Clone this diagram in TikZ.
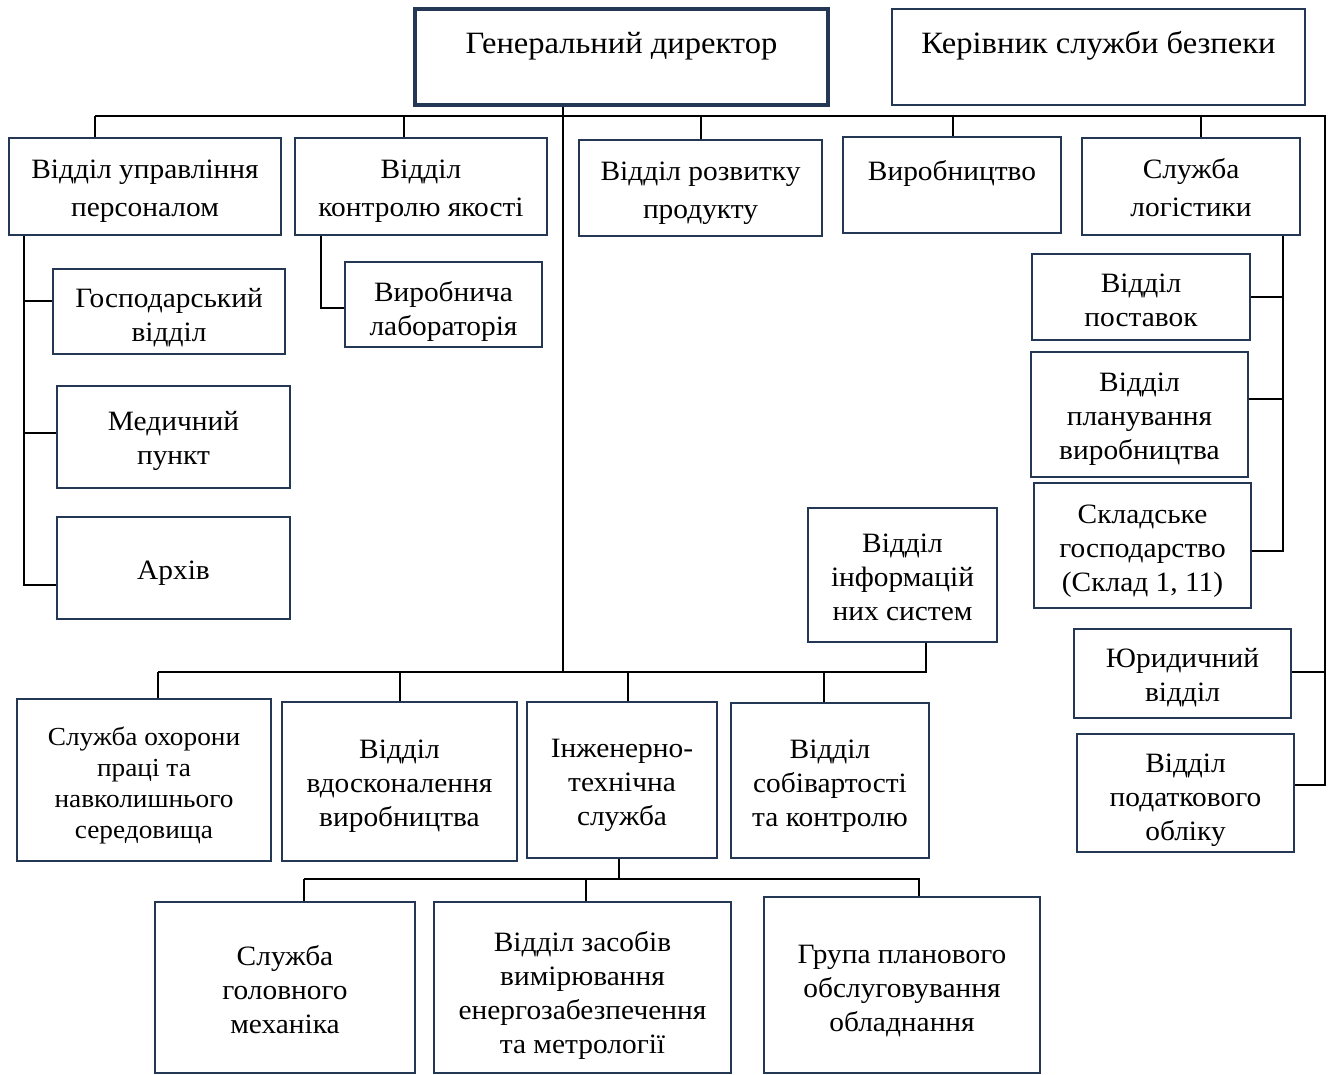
\documentclass[tikz,border=0pt]{standalone}
\usepackage{fontspec}
\setmainfont{Liberation Serif}[FakeStretch=1.05]
\definecolor{navy}{RGB}{36,56,86}
\tikzset{
  box/.style={draw=navy, line width=2.6pt, rectangle, inner sep=0pt},
  txt/.style={inner sep=0pt, align=center, font=\fontsize{28}{34}\selectfont},
  txtA/.style={txt, font=\fontsize{28}{38}\selectfont},
  txtB/.style={txt, font=\fontsize{31}{36}\selectfont},
  txtS/.style={txt, font=\fontsize{26}{31}\selectfont},
  conn/.style={draw=black, line width=2pt}
}
% \obox[text style]{name}{x1}{y1}{x2}{y2}{text centre y}{text}
\newcommand\obox[8][txt]{%
  \node[box,minimum width={(#5-#3)*1pt},minimum height={(#6-#4)*1pt}]
    (#2) at ({(#3+#5)/2},{(#4+#6)/2}) {};
  \node[#1] (#2-t) at ({(#3+#5)/2},#7) {#8};}
\begin{document}
\begin{tikzpicture}[x=1pt,y=-1pt]
\useasboundingbox (0,0) rectangle (1332,1075);
% boxes
\node[box,line width=4pt,minimum width=413pt,minimum height=96pt] (gd) at (621.5,57) {};
\node[txtB] (gd-t) at (621.5,46) {Генеральний директор};
\obox[txtB]{ksb}{892}{9}{1305}{105}{46}{Керівник служби безпеки}
\obox[txtA]{vup}{9}{138}{281}{235}{191.5}{Відділ управління\\персоналом}
\obox[txtA]{vky}{295}{138}{547}{235}{191.5}{Відділ\\контролю якості}
\obox[txtA]{vrp}{579}{140}{822}{236}{193}{Відділ розвитку\\продукту}
\obox[txtA]{vyr}{843}{137}{1061}{233}{173}{Виробництво}
\obox[txtA]{sl}{1082}{138}{1300}{235}{188}{Служба\\логістики}
\obox{hv}{53}{269}{285}{354}{318}{Господарський\\відділ}
\obox{vl}{345}{262}{542}{347}{311}{Виробнича\\лабораторія}
\obox{mp}{57}{386}{290}{488}{441}{Медичний\\пункт}
\obox{arh}{57}{517}{290}{619}{573}{Архів}
\obox{vp}{1032}{254}{1250}{340}{300.5}{Відділ\\поставок}
\obox{vpv}{1031}{352}{1248}{477}{419}{Відділ\\планування\\виробництва}
\obox{sg}{1034}{483}{1251}{608}{551}{Складське\\господарство\\(Склад 1, 11)}
\obox{vis}{808}{508}{997}{642}{577}{Відділ\\інформацій\\них систем}
\obox{yv}{1074}{629}{1291}{718}{678}{Юридичний\\відділ}
\obox{vpo}{1077}{734}{1294}{852}{800}{Відділ\\податкового\\обліку}
\obox[txtS]{sop}{17}{699}{271}{861}{785}{Служба охорони\\праці та\\навколишнього\\середовища}
\obox{vvv}{282}{702}{517}{861}{786}{Відділ\\вдосконалення\\виробництва}
\obox{its}{527}{702}{717}{858}{785}{Інженерно-\\технічна\\служба}
\obox{vsk}{731}{703}{929}{858}{786}{Відділ\\собівартості\\та контролю}
\obox{sgm}{155}{902}{415}{1073}{990}{Служба\\головного\\механіка}
\obox{vzv}{434}{902}{731}{1073}{995}{Відділ засобів\\вимірювання\\енергозабезпечення\\та метрології}
\obox{gpo}{764}{897}{1040}{1073}{991}{Група планового\\обслуговування\\обладнання}
% coordinates
\coordinate (s1) at (95,116);
\coordinate (s2) at (404,116);
\coordinate (s3) at (701,116);
\coordinate (s4) at (953,116);
\coordinate (s5) at (1201,116);
\coordinate (sR) at (1325,116);
\coordinate (r1) at (1325,672);
\coordinate (r2) at (1325,785);
\coordinate (g1) at (563,672);
\coordinate (l1) at (158,672);
\coordinate (l2) at (400,672);
\coordinate (l3) at (628,672);
\coordinate (l4) at (824,672);
\coordinate (lR) at (926,672);
\coordinate (b0) at (619,879);
\coordinate (b1) at (304,879);
\coordinate (b2) at (586,879);
\coordinate (bR) at (919,879);
\coordinate (h1) at (24,301);
\coordinate (h2) at (24,433);
\coordinate (h3) at (24,585);
\coordinate (k1) at (321,308);
\coordinate (t1) at (1283,297);
\coordinate (t2) at (1283,399);
\coordinate (t3) at (1283,551);
% connectors
\begin{scope}[conn]
\draw (s1) -- (sR) -- (r2) -- (r2 -| vpo.east);
\draw (r1) -- (r1 -| yv.east);
\draw (s1) -- (s1 |- vup.north);
\draw (s2) -- (s2 |- vky.north);
\draw (s3) -- (s3 |- vrp.north);
\draw (s4) -- (s4 |- vyr.north);
\draw (s5) -- (s5 |- sl.north);
\draw (g1 |- gd.south) -- (g1);
\draw (l1) -- (lR) -- (lR |- vis.south);
\draw (l1) -- (l1 |- sop.north);
\draw (l2) -- (l2 |- vvv.north);
\draw (l3) -- (l3 |- its.north);
\draw (l4) -- (l4 |- vsk.north);
\draw (b0 |- its.south) -- (b0);
\draw (b1) -- (bR) -- (bR |- gpo.north);
\draw (b1) -- (b1 |- sgm.north);
\draw (b2) -- (b2 |- vzv.north);
\draw (h3 |- vup.south) -- (h3) -- (h3 -| arh.west);
\draw (h1) -- (h1 -| hv.west);
\draw (h2) -- (h2 -| mp.west);
\draw (k1 |- vky.south) -- (k1) -- (k1 -| vl.west);
\draw (t3 |- sl.south) -- (t3) -- (t3 -| sg.east);
\draw (t1) -- (t1 -| vp.east);
\draw (t2) -- (t2 -| vpv.east);
\end{scope}
\end{tikzpicture}
\end{document}
